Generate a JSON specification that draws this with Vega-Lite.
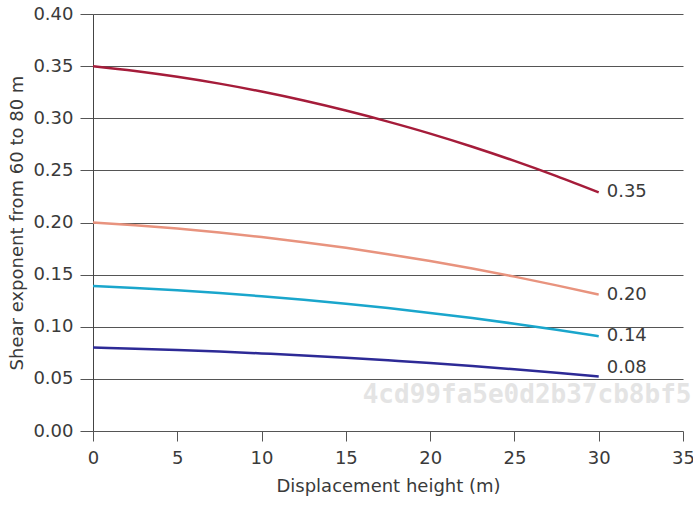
{
  "$schema": "https://vega.github.io/schema/vega-lite/v6.json",
  "width": 590,
  "height": 417,
  "autosize": {"type": "none"},
  "padding": {"left": 93, "top": 14, "right": 10, "bottom": 74},
  "background": "white",
  "config": {
    "view": {"stroke": null},
    "font": "DejaVu Sans",
    "axis": {
      "labelFont": "DejaVu Sans",
      "titleFont": "DejaVu Sans",
      "labelFontSize": 18,
      "titleFontSize": 18,
      "labelColor": "#3a3a3a",
      "titleColor": "#3a3a3a",
      "titleFontWeight": "normal",
      "tickColor": "#555555",
      "domainColor": "#444444",
      "gridColor": "#555555",
      "gridOpacity": 1,
      "tickWidth": 1,
      "gridWidth": 1
    }
  },
  "datasets": {
    "curves": [
      {"d": 0, "alpha": 0.3500, "series": "0.35"},
      {"d": 2.5, "alpha": 0.3454, "series": "0.35"},
      {"d": 5, "alpha": 0.3398, "series": "0.35"},
      {"d": 7.5, "alpha": 0.3332, "series": "0.35"},
      {"d": 10, "alpha": 0.3256, "series": "0.35"},
      {"d": 12.5, "alpha": 0.3170, "series": "0.35"},
      {"d": 15, "alpha": 0.3074, "series": "0.35"},
      {"d": 17.5, "alpha": 0.2968, "series": "0.35"},
      {"d": 20, "alpha": 0.2853, "series": "0.35"},
      {"d": 22.5, "alpha": 0.2727, "series": "0.35"},
      {"d": 25, "alpha": 0.2591, "series": "0.35"},
      {"d": 27.5, "alpha": 0.2445, "series": "0.35"},
      {"d": 30, "alpha": 0.2289, "series": "0.35"},
      {"d": 0, "alpha": 0.2000, "series": "0.20"},
      {"d": 2.5, "alpha": 0.1974, "series": "0.20"},
      {"d": 5, "alpha": 0.1942, "series": "0.20"},
      {"d": 7.5, "alpha": 0.1904, "series": "0.20"},
      {"d": 10, "alpha": 0.1861, "series": "0.20"},
      {"d": 12.5, "alpha": 0.1811, "series": "0.20"},
      {"d": 15, "alpha": 0.1757, "series": "0.20"},
      {"d": 17.5, "alpha": 0.1696, "series": "0.20"},
      {"d": 20, "alpha": 0.1630, "series": "0.20"},
      {"d": 22.5, "alpha": 0.1558, "series": "0.20"},
      {"d": 25, "alpha": 0.1481, "series": "0.20"},
      {"d": 27.5, "alpha": 0.1397, "series": "0.20"},
      {"d": 30, "alpha": 0.1308, "series": "0.20"},
      {"d": 0, "alpha": 0.1390, "series": "0.14"},
      {"d": 2.5, "alpha": 0.1372, "series": "0.14"},
      {"d": 5, "alpha": 0.1349, "series": "0.14"},
      {"d": 7.5, "alpha": 0.1323, "series": "0.14"},
      {"d": 10, "alpha": 0.1293, "series": "0.14"},
      {"d": 12.5, "alpha": 0.1259, "series": "0.14"},
      {"d": 15, "alpha": 0.1221, "series": "0.14"},
      {"d": 17.5, "alpha": 0.1179, "series": "0.14"},
      {"d": 20, "alpha": 0.1133, "series": "0.14"},
      {"d": 22.5, "alpha": 0.1083, "series": "0.14"},
      {"d": 25, "alpha": 0.1029, "series": "0.14"},
      {"d": 27.5, "alpha": 0.0971, "series": "0.14"},
      {"d": 30, "alpha": 0.0909, "series": "0.14"},
      {"d": 0, "alpha": 0.0800, "series": "0.08"},
      {"d": 2.5, "alpha": 0.0789, "series": "0.08"},
      {"d": 5, "alpha": 0.0777, "series": "0.08"},
      {"d": 7.5, "alpha": 0.0762, "series": "0.08"},
      {"d": 10, "alpha": 0.0744, "series": "0.08"},
      {"d": 12.5, "alpha": 0.0725, "series": "0.08"},
      {"d": 15, "alpha": 0.0703, "series": "0.08"},
      {"d": 17.5, "alpha": 0.0678, "series": "0.08"},
      {"d": 20, "alpha": 0.0652, "series": "0.08"},
      {"d": 22.5, "alpha": 0.0623, "series": "0.08"},
      {"d": 25, "alpha": 0.0592, "series": "0.08"},
      {"d": 27.5, "alpha": 0.0559, "series": "0.08"},
      {"d": 30, "alpha": 0.0523, "series": "0.08"}
    ],
    "labels": [
      {"d": 30, "alpha": 0.2289, "series": "0.35"},
      {"d": 30, "alpha": 0.1308, "series": "0.20"},
      {"d": 30, "alpha": 0.0909, "series": "0.14"},
      {"d": 30, "alpha": 0.0523, "series": "0.08"}
    ],
    "mark": [
      {"d": 16, "alpha": 0.035, "text": "4cd99fa5e0d2b37cb8bf5"}
    ]
  },
  "layer": [
    {
      "data": {"name": "mark"},
      "mark": {"type": "text", "align": "left", "baseline": "middle", "font": "DejaVu Sans Mono", "fontWeight": "bold", "fontSize": 26, "color": "#e4e4e4"},
      "encoding": {
        "x": {"field": "d", "type": "quantitative", "scale": {"domain": [0, 35]}},
        "y": {"field": "alpha", "type": "quantitative", "scale": {"domain": [0, 0.4]}},
        "text": {"field": "text"}
      }
    },
    {
      "data": {"name": "curves"},
      "mark": {"type": "line", "strokeWidth": 2.5, "interpolate": "monotone"},
      "encoding": {
        "x": {
          "field": "d", "type": "quantitative",
          "scale": {"domain": [0, 35], "nice": false},
          "axis": {"values": [0, 5, 10, 15, 20, 25, 30, 35], "grid": false, "domain": false, "tickSize": 10, "labelPadding": 8, "labelFlush": false, "title": "Displacement height (m)", "titlePadding": 10}
        },
        "y": {
          "field": "alpha", "type": "quantitative",
          "scale": {"domain": [0, 0.4], "nice": false},
          "axis": {"values": [0, 0.05, 0.1, 0.15, 0.2, 0.25, 0.3, 0.35, 0.4], "format": ".2f", "grid": true, "domain": true, "tickSize": 13, "labelPadding": 7, "labelFlush": false, "title": "Shear exponent from 60 to 80 m", "titlePadding": 6}
        },
        "color": {
          "field": "series", "type": "nominal",
          "scale": {"domain": ["0.35", "0.20", "0.14", "0.08"], "range": ["#a51c3a", "#e8937e", "#1aa6cc", "#2d2a96"]},
          "legend": null
        },
        "detail": {"field": "series"}
      }
    },
    {
      "data": {"name": "labels"},
      "transform": [{"filter": "datum.series != '0.08'"}],
      "mark": {"type": "text", "align": "left", "baseline": "middle", "dx": 8, "fontSize": 18, "color": "#3a3a3a"},
      "encoding": {
        "x": {"field": "d", "type": "quantitative"},
        "y": {"field": "alpha", "type": "quantitative"},
        "text": {"field": "series"}
      }
    },
    {
      "data": {"name": "labels"},
      "transform": [{"filter": "datum.series == '0.08'"}],
      "mark": {"type": "text", "align": "left", "baseline": "middle", "dx": 8, "dy": -8, "fontSize": 18, "color": "#3a3a3a"},
      "encoding": {
        "x": {"field": "d", "type": "quantitative"},
        "y": {"field": "alpha", "type": "quantitative"},
        "text": {"field": "series"}
      }
    }
  ]
}
